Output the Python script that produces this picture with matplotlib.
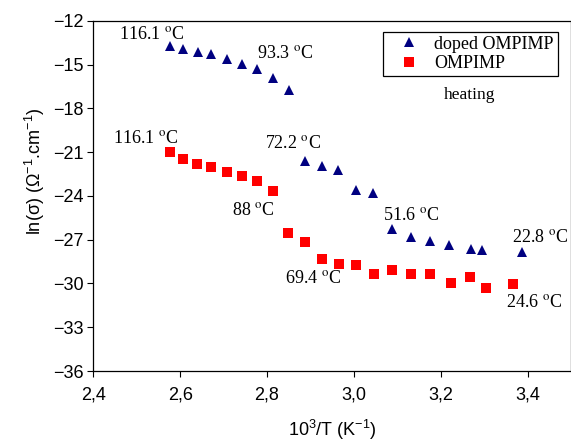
import matplotlib
matplotlib.use("Agg")
import matplotlib.pyplot as plt
from matplotlib.lines import Line2D

plt.rcParams['font.family'] = ['Liberation Sans', 'DejaVu Sans']
plt.rcParams['mathtext.fontset'] = 'custom'
plt.rcParams['mathtext.rm'] = 'Liberation Sans'
plt.rcParams['mathtext.it'] = 'Liberation Sans:italic'

# doped OMPIMP (triangles)
x_doped = [2.577, 2.607, 2.642, 2.672, 2.708, 2.743, 2.776, 2.813, 2.850,
           2.887, 2.926, 2.964, 3.005, 3.044, 3.088, 3.131, 3.175, 3.219,
           3.269, 3.296, 3.388]
y_doped = [-13.70, -13.97, -14.17, -14.31, -14.65, -14.98, -15.32, -15.89, -16.77,
           -21.58, -21.93, -22.20, -23.60, -23.80, -26.24, -26.79, -27.10, -27.38,
           -27.61, -27.70, -27.82]

# OMPIMP (squares)
x_pure = [2.577, 2.606, 2.639, 2.671, 2.707, 2.742, 2.776, 2.813,
          2.849, 2.887, 2.926, 2.965, 3.005, 3.046, 3.088, 3.131, 3.175,
          3.223, 3.267, 3.305, 3.367]
y_pure = [-21.01, -21.46, -21.81, -22.04, -22.39, -22.61, -22.96, -23.69,
          -26.55, -27.15, -28.30, -28.64, -28.71, -29.37, -29.10, -29.33, -29.33,
          -29.99, -29.53, -30.29, -30.06]

temp_labels = ['116.1', '93.3', '116.1', '72.2', '88', '51.6', '69.4', '22.8', '24.6']
label_x = [2.459, 2.777, 2.445, 2.795, 2.719, 3.066, 2.841, 3.363, 3.350]
label_y = [-13.25, -14.55, -20.36, -20.74, -25.31, -25.65, -29.99, -27.14, -31.59]

xticks = [2.4, 2.6, 2.8, 3.0, 3.2, 3.4]
xticklabels = ['2,4', '2,6', '2,8', '3,0', '3,2', '3,4']
yticks = [-12, -15, -18, -21, -24, -27, -30, -33, -36]

fig = plt.figure(figsize=(5.71, 4.43), dpi=100)
ax = fig.add_axes([0.1634, 0.1625, 0.8366, 0.7907])

ax.plot(x_doped, y_doped, ls='none', marker='^', ms=7.5, mew=0, color='#000080')
ax.plot(x_pure, y_pure, ls='none', marker='s', ms=6.5, mew=0, color='#ff0000')

for t, lx, ly in zip(temp_labels, label_x, label_y):
    ax.text(lx, ly, t + r' $^{\mathrm{o}}$C', fontsize=13, family='Liberation Serif',
            math_fontfamily='stix', ha='left', va='baseline')

ax.set_xlim(2.4, 3.5)
ax.set_ylim(-36, -12)
ax.set_xticks(xticks)
ax.set_xticklabels(xticklabels)
ax.set_yticks(yticks)
ax.tick_params(direction='out', length=4, width=0.8, labelsize=13, colors='black')
ax.tick_params(axis='x', pad=7)
ax.tick_params(axis='y', pad=3)
for s in ax.spines.values():
    s.set_linewidth(0.9)

ax.set_xlabel('10$^3$/T (K$^{-1}$)', fontsize=13)
ax.set_ylabel('ln(σ) (Ω$^{-1}$.cm$^{-1}$)', fontsize=13)
ax.xaxis.set_label_coords(0.5, -0.135)
ax.yaxis.set_label_coords(-0.097, 0.569)

handles = [Line2D([], [], ls='none', marker='^', ms=7.5, mew=0, color='#000080'),
           Line2D([], [], ls='none', marker='s', ms=6.5, mew=0, color='#ff0000')]
leg = ax.legend(handles, ['doped OMPIMP', 'OMPIMP'], loc='upper left',
                bbox_to_anchor=(383 / 571, 1 - 32 / 443), bbox_transform=fig.transFigure,
                prop={'family': 'Liberation Serif', 'size': 13}, fancybox=False,
                edgecolor='black', framealpha=1, borderpad=0.2, labelspacing=0.15,
                handlelength=2.5, handletextpad=0.15, borderaxespad=0)
leg.get_frame().set_linewidth(0.9)
fig.text(470 / 571, 1 - 99 / 443, 'heating', family='Liberation Serif', fontsize=12.5,
         ha='center', va='baseline')

fig.savefig('out.png', dpi=100)
